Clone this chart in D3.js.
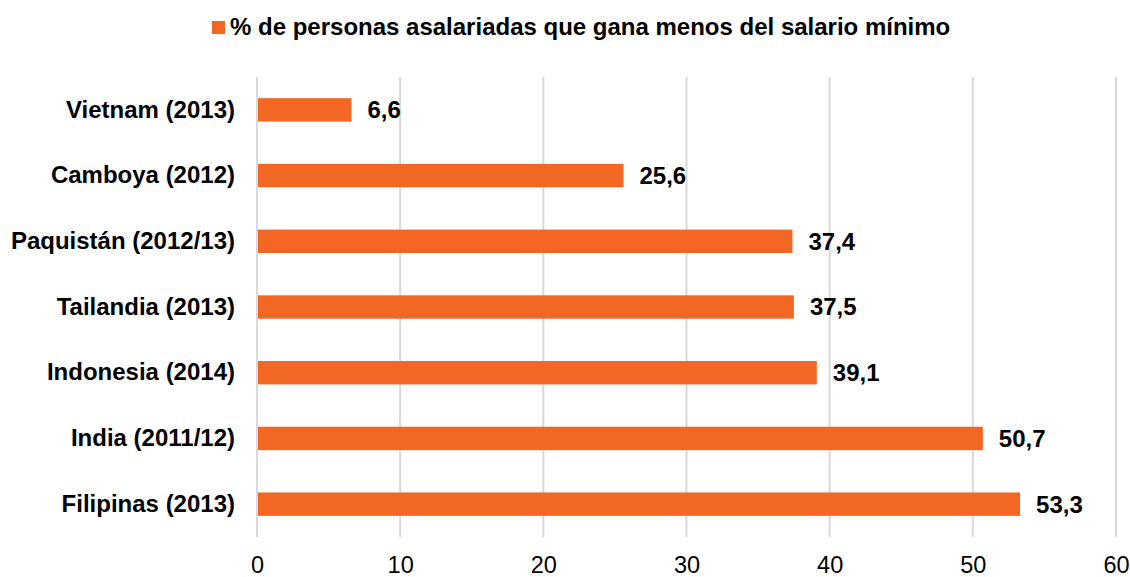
<!DOCTYPE html>
<head>
<meta charset="utf-8">
<style>
body { margin: 0; background: #fff; }
text { font-family: "Liberation Sans", Arial, sans-serif; fill: #000; }
.grid line { stroke: #d9d9d9; stroke-width: 2px; }
.bar { fill: #f26724; }
</style>
</head>
<body>
<script src="https://d3js.org/d3.v7.min.js"></script>
<script>

// data
var countries = ["Vietnam (2013)", "Camboya (2012)", "Paquistán (2012/13)", "Tailandia (2013)",
                 "Indonesia (2014)", "India (2011/12)", "Filipinas (2013)"];
var values = [6.6, 25.6, 37.4, 37.5, 39.1, 50.7, 53.3];
var ticks = [0, 10, 20, 30, 40, 50, 60];
var seriesName = "% de personas asalariadas que gana menos del salario mínimo";

var width = 1130, height = 577;
var margin = {top: 77, right: 14, bottom: 40, left: 257};

var svg = d3.select("body").append("svg")
    .attr("width", width)
    .attr("height", height);

var x = d3.scaleLinear().domain([0, 60]).range([margin.left, 1116]);
var y = d3.scaleBand().domain(countries).range([77, 537]).paddingInner(0.644).paddingOuter(0.322);

// vertical gridlines
svg.append("g").attr("class", "grid")
  .selectAll("line").data(ticks).enter().append("line")
    .attr("x1", function(d) { return x(d); })
    .attr("x2", function(d) { return x(d); })
    .attr("y1", 77)
    .attr("y2", 537);

// bars
svg.selectAll(".bar").data(values).enter().append("rect")
    .attr("class", "bar")
    .attr("x", x(0) + 1)
    .attr("y", function(d, i) { return y(countries[i]); })
    .attr("width", function(d) { return x(d) - x(0) - 1; })
    .attr("height", y.bandwidth());

// value labels
svg.selectAll(".val").data(values).enter().append("text")
    .attr("class", "val")
    .attr("x", function(d) { return x(d) + 16; })
    .attr("y", function(d, i) { return y(countries[i]) + y.bandwidth() / 2; })
    .attr("dy", "0.35em")
    .style("font-size", "24px")
    .style("font-weight", "bold")
    .text(function(d) { return d3.format(".1f")(d).replace(".", ","); });

// category axis
var yAxis = svg.append("g")
    .attr("transform", "translate(" + (margin.left - 22) + ",0)")
    .call(d3.axisLeft(y).tickSize(0).tickPadding(0));
yAxis.select(".domain").remove();
yAxis.selectAll("text")
    .style("font-size", "24px")
    .style("font-weight", "bold")
    .style("font-family", "Liberation Sans, Arial, sans-serif")
    .attr("fill", "#000");

// value axis
var xAxis = svg.append("g")
    .attr("transform", "translate(0,547)")
    .call(d3.axisBottom(x).tickValues(ticks).tickSize(0).tickPadding(0));
xAxis.select(".domain").remove();
xAxis.selectAll("text")
    .attr("dy", "0.71em")
    .attr("y", 9)
    .style("font-size", "23.5px")
    .style("font-family", "Liberation Sans, Arial, sans-serif")
    .attr("fill", "#000");

// legend
var legend = svg.append("g");
legend.append("rect")
    .attr("class", "bar")
    .attr("x", 212).attr("y", 21)
    .attr("width", 13).attr("height", 13);
legend.append("text")
    .attr("x", 230).attr("y", 27)
    .attr("dy", "0.35em")
    .style("font-size", "24px")
    .style("font-weight", "bold")
    .text(seriesName);

</script>
</body>
